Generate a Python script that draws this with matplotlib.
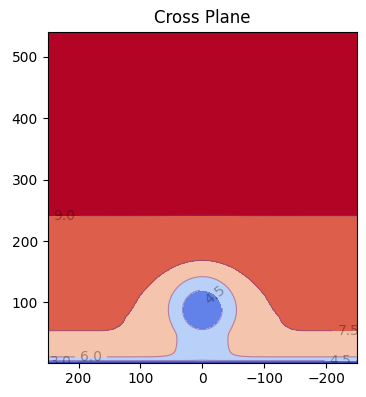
import numpy as np
import matplotlib
matplotlib.use("Agg")
import matplotlib.pyplot as plt

# contour levels (filled + lines); below/above are extended
LEVELS = [3.0, 4.5, 6.0, 7.5, 9.0]

# free-stream profile: heights where each level is crossed
PROFILE_Y = [2.0, 3.5, 5.5, 11.5, 54.0, 241.0, 541.0]
PROFILE_U = [2.4, 3.0, 4.5, 6.0, 7.5, 9.0, 9.8]

# wake around the hub: radius vs value
HUB = (0.0, 88.0)
WAKE_R = [0, 32, 54, 78, 90, 106, 120, 135, 153, 400]
WAKE_U = [3.4, 4.5, 6.0, 7.52, 7.6, 7.78, 8.2, 9.0, 11.0, 25.0]
WAKE_STRETCH = 0.18   # outer wake is wider than tall

# tower column: |x| vs value
TOWER_X = [0, 40, 70, 120, 250]
TOWER_U = [5.0, 6.0, 7.0, 9.5, 15.0]

# where the contour labels sit
LABEL_POS = [(224, 242), (-236, 55), (180, 12), (228, 3.4), (-18, 110), (-223, 6)]


def softmin(a, b, k):
    return -k * np.logaddexp(-a / k, -b / k)


x = np.linspace(-250, 250, 501)
y = np.linspace(1.5, 541, 540)
X, Y = np.meshgrid(x, y)

free = np.interp(np.log(Y), np.log(PROFILE_Y), PROFILE_U)
r = np.hypot(X - HUB[0], Y - HUB[1])
t = np.clip((r - 40) / 80, 0, 1)
s = 1 + WAKE_STRETCH * t * t * (3 - 2 * t)
r_eff = np.hypot((X - HUB[0]) / s, Y - HUB[1])
wake = np.interp(r_eff, WAKE_R, WAKE_U)
tower = np.interp(np.abs(X), TOWER_X, TOWER_U) + np.clip(Y - 60, 0, None) * 0.05
Z = softmin(free, softmin(wake, tower, 0.15), 0.45)

fig = plt.figure(figsize=(3.66, 3.97), dpi=100)
ax = fig.add_axes([0.130, 0.0864, 0.846, 0.834])

ax.contourf(X, Y, Z, levels=LEVELS, cmap="coolwarm", extend="both")
cs = ax.contour(X, Y, Z, levels=LEVELS, colors="#6a3d9a", alpha=0.5, linewidths=0.8)
labels = ax.clabel(cs, inline=True, fontsize=10, colors="k", manual=LABEL_POS)
for txt in labels:
    txt.set_alpha(0.35)

ax.set_xlim(250, -250)
ax.set_ylim(2, 541)
ax.set_title("Cross Plane")

fig.savefig("out.png", dpi=100)
